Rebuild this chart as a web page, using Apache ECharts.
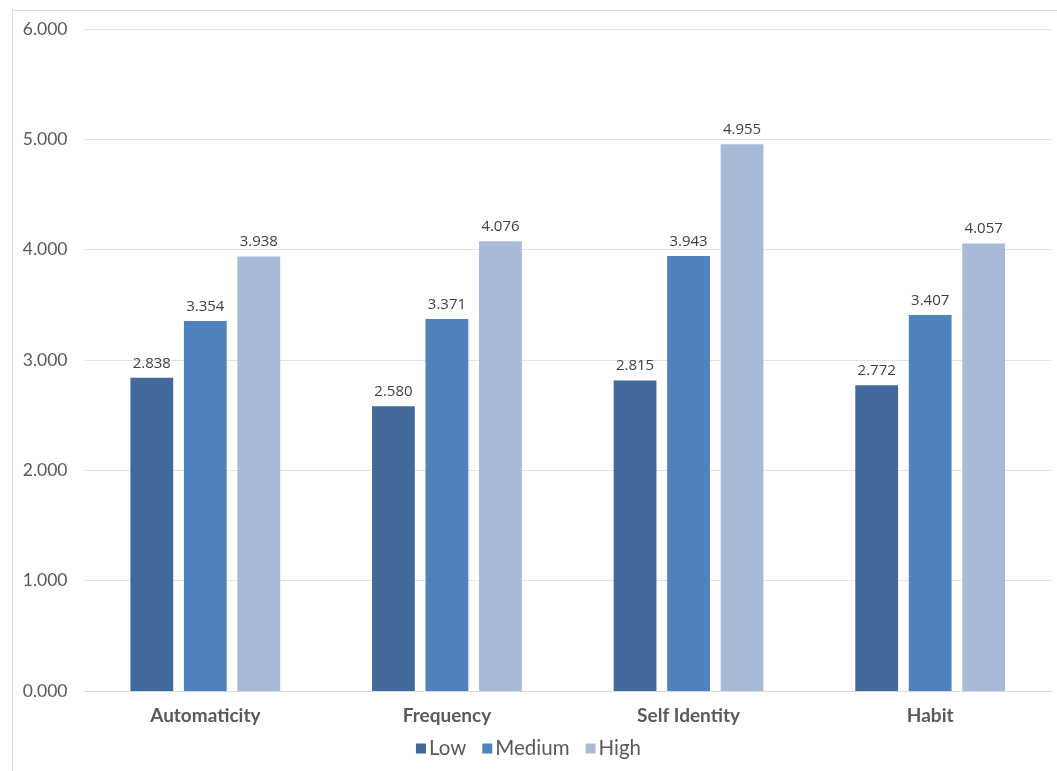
<!DOCTYPE html>
<html><head><meta charset="utf-8">
<script src="https://cdn.jsdelivr.net/npm/echarts@6/dist/echarts.min.js"></script>
<style>html,body{margin:0;padding:0;background:#fff;}#frame{position:absolute;left:12px;top:10px;width:1060px;height:780px;border:1px solid #d9d9d9;box-sizing:border-box;}#c{position:absolute;left:0;top:0;width:1057px;height:771px;}</style>
</head><body><div id="frame"></div><div id="c"></div>
<script>
const categories = ['Automaticity', 'Frequency', 'Self Identity', 'Habit'];
const seriesNames = ['Low', 'Medium', 'High'];
const lowValues = [2.838, 2.580, 2.815, 2.772];
const mediumValues = [3.354, 3.371, 3.943, 3.407];
const highValues = [3.938, 4.076, 4.955, 4.057];
const yTicks = [0, 1, 2, 3, 4, 5, 6];
const colors = ['#41699b', '#4f81bd', '#a9b9d8'];

const chart = echarts.init(document.getElementById('c'), null, {renderer: 'canvas'});
const dataSets = [lowValues, mediumValues, highValues];
chart.setOption({
  animation: false,
  grid: {left: 84.5, right: 6, top: 29, bottom: 80, containLabel: false},
  legend: {
    data: seriesNames, bottom: 7, left: 'center', itemWidth: 10, itemHeight: 10, itemGap: 16,
    icon: 'rect',
    textStyle: {fontFamily: 'Lato, sans-serif', fontSize: 20.5, color: '#595959', padding: [0,0,0,-2]}
  },
  xAxis: {
    type: 'category', data: categories,
    axisLine: {show: true, lineStyle: {color: '#d9d9d9', width: 1}},
    axisTick: {show: false},
    axisLabel: {fontFamily: 'Lato, sans-serif', fontWeight: 'bold', fontSize: 19, color: '#595959', margin: 15}
  },
  yAxis: {
    type: 'value', min: yTicks[0], max: yTicks[yTicks.length-1], interval: 1,
    axisLine: {show: false}, axisTick: {show: false},
    splitLine: {lineStyle: {color: '#e3e3e3', width: 1}},
    axisLabel: {fontFamily: 'Lato, sans-serif', fontSize: 17.5, color: '#595959', margin: 17,
      formatter: v => v.toFixed(3)}
  },
  series: seriesNames.map((n, i) => ({
    name: n, type: 'bar', data: dataSets[i], barGap: '25%', barCategoryGap: '38%',
    itemStyle: {color: colors[i]},
    label: {show: true, position: 'top', distance: 7, fontFamily: 'Open Sans, sans-serif', fontSize: 15, color: '#404040',
      formatter: p => p.value.toFixed(3)}
  }))
});
</script></body></html>
